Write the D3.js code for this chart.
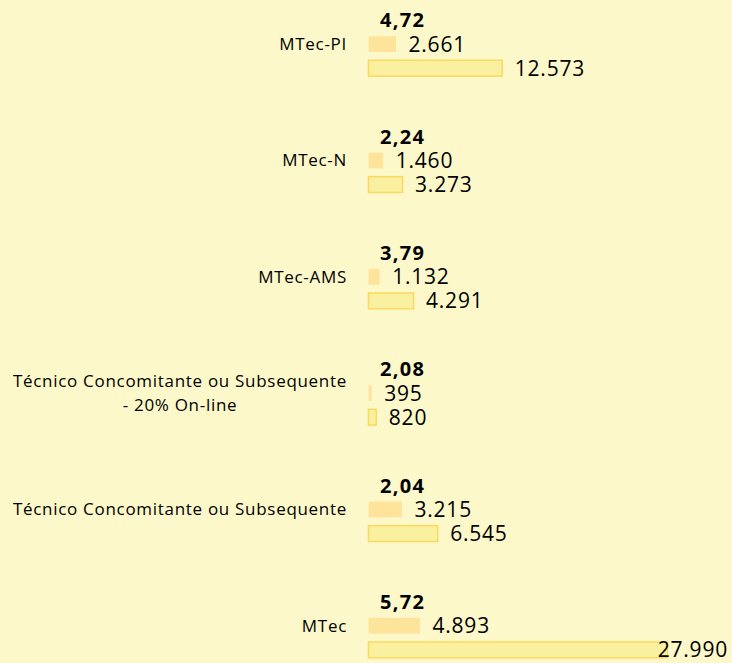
<!DOCTYPE html>
<html>
<head>
<meta charset="utf-8">
<script src="https://cdn.jsdelivr.net/npm/d3@7"></script>
<style>
  html, body { margin: 0; padding: 0; background: #fcf8ca; }
  svg { display: block; }
  text { font-family: "Open Sans", sans-serif; fill: #000; }
  .cat { font-size: 17px; letter-spacing: 0.7px; }
  .num { font-size: 21px; letter-spacing: 0.8px; }
  .ratio { font-size: 20px; font-weight: bold; letter-spacing: 1.3px; }
</style>
</head>
<body>
<svg id="chart" width="732" height="663"></svg>
<script>
  // categories top to bottom
  const categories = [
    "MTec-PI",
    "MTec-N",
    "MTec-AMS",
    "Técnico Concomitante ou Subsequente\n- 20% On-line",
    "Técnico Concomitante ou Subsequente",
    "MTec",
  ];
  const ratios = [4.72, 2.24, 3.79, 2.08, 2.04, 5.72];
  const matriculas = [2661, 1460, 1132, 395, 3215, 4893];
  const inscritos = [12573, 3273, 4291, 820, 6545, 27990];

  const width = 732, height = 663;
  const svg = d3.select("#chart");

  const locale = d3.formatLocale({ decimal: ",", thousands: ".", grouping: [3], currency: ["R$", ""] });
  const fmtInt = locale.format(",d");
  const fmtRatio = locale.format(".2f");

  const x = d3.scaleLinear().domain([0, 28000]).range([368, 668]);
  // plot area runs a little past the bottom of the picture, as in the original
  const y = d3.scaleBand().domain(categories).range([-14, 684])
    .paddingInner(0.38).paddingOuter(0.19);
  const sub = d3.scaleBand().domain(["ratio", "matr", "insc"])
    .range([0, y.bandwidth()]).paddingInner(0.3).paddingOuter(0.15);

  const rows = categories.map((c, i) => ({
    cat: c, ratio: ratios[i], matr: matriculas[i], insc: inscritos[i],
  }));

  const series = [
    { key: "ratio", fill: "#fdfbdc", stroke: "none", fmt: fmtRatio, cls: "ratio" },
    { key: "matr", fill: "#fee49a", stroke: "none", fmt: fmtInt, cls: "num" },
    { key: "insc", fill: "#faf1a0", stroke: "#fdd85e", fmt: fmtInt, cls: "num" },
  ];

  const g = svg.selectAll(".group").data(rows).enter()
    .append("g").attr("class", "group")
    .attr("transform", (d) => "translate(0," + y(d.cat) + ")");

  series.forEach((s) => {
    g.append("rect")
      .attr("x", x(0) + 0.5)
      .attr("y", sub(s.key) + 0.5)
      .attr("width", (d) => Math.max(0, x(d[s.key]) - x(0) - 1))
      .attr("height", sub.bandwidth() - 1)
      .attr("fill", s.fill)
      .attr("stroke", s.stroke)
      .attr("stroke-width", 1.5);

    g.append("text")
      .attr("class", s.cls)
      .attr("x", (d) => x(d[s.key]) + 12)
      .attr("y", sub(s.key) + sub.bandwidth() / 2)
      .attr("dy", "0.36em")
      .text((d) => s.fmt(d[s.key]))
      .each(function () {
        // labels that would run off the right edge are pulled back inside
        const w = this.getComputedTextLength();
        const x0 = +this.getAttribute("x");
        if (x0 + w > width - 4) {
          d3.select(this).attr("x", width - 4).attr("text-anchor", "end");
        }
      });
  });

  // category labels, right-aligned as a block, lines centered within it,
  // block centered vertically on the middle bar
  const labelRight = 347;
  const lineH = 24;
  g.each(function (d) {
    const lines = d.cat.split("\n");
    const mid = sub("matr") + sub.bandwidth() / 2;
    const top = mid - (lines.length - 1) * lineH / 2;
    const t = d3.select(this).append("text").attr("class", "cat");
    lines.forEach((ln, k) => {
      t.append("tspan").attr("y", top + k * lineH).attr("dy", "0.35em").text(ln);
    });
    const spans = t.selectAll("tspan").nodes();
    const maxW = d3.max(spans, (n) => n.getComputedTextLength());
    spans.forEach((n) => {
      d3.select(n).attr("x", labelRight - maxW / 2).attr("text-anchor", "middle");
    });
  });
</script>
</body>
</html>
